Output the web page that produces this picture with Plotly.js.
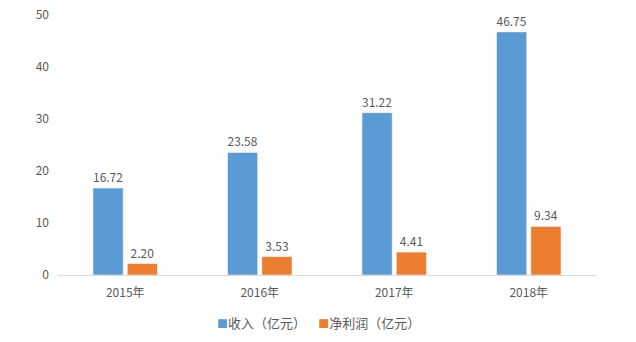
<!DOCTYPE html>
<html><head><meta charset="utf-8">
<script src="https://cdn.plot.ly/plotly-3.0.1.min.js"></script>
<style>html,body{margin:0;padding:0;background:#fff}#chart{width:636px;height:342px}</style>
</head><body><div id="chart"></div>
<script>
const categories = ["2015年", "2016年", "2017年", "2018年"];
const revenue = [16.72, 23.58, 31.22, 46.75];
const netProfit = [2.20, 3.53, 4.41, 9.34];
const seriesNames = ["收入（亿元）", "净利润（亿元）"];
const seriesColors = ["#5B9BD5", "#ED7D31"];
const yTicks = [0, 10, 20, 30, 40, 50];

const font = "'Microsoft YaHei', 'Noto Sans CJK SC', sans-serif";
const textColor = "#595959";

const mk = (y, name, color) => ({
  type: "bar", x: categories, y: y, name: name,
  marker: {color: color, line: {color: "#ffffff", width: 0.5}},
  text: y.map(v => v.toFixed(2)), textposition: "outside", cliponaxis: false,
  textfont: {family: font, size: 12, color: textColor},
  hoverinfo: "none", showlegend: false
});

const legendText = seriesNames.map((n, i) =>
  `<span style="color:${seriesColors[i]};font-size:11px">■</span>${n}`).join("　  ");

Plotly.newPlot("chart", [
  mk(revenue, seriesNames[0], seriesColors[0]),
  mk(netProfit, seriesNames[1], seriesColors[1])
], {
  width: 636, height: 342,
  margin: {l: 58, r: 40, t: 15, b: 67},
  paper_bgcolor: "#fff", plot_bgcolor: "#fff",
  barmode: "group", bargap: 0.49, bargroupgap: 0.12,
  font: {family: font, color: textColor, size: 12},
  xaxis: {showline: true, linecolor: "#D9D9D9", linewidth: 1, ticks: "", showgrid: false,
          tickfont: {size: 12, color: textColor}, ticklabelstandoff: 7},
  yaxis: {range: [0, 50], tickvals: yTicks, showgrid: false, zeroline: false, showline: false,
          ticks: "", tickfont: {size: 12, color: textColor}, ticklabelstandoff: 8},
  showlegend: false,
  annotations: [{
    xref: "paper", yref: "paper", x: (318 - 58) / 538, y: (342 - 322 - 67) / 260,
    xanchor: "center", yanchor: "middle", showarrow: false,
    text: legendText, font: {family: font, size: 13, color: textColor}
  }]
}, {staticPlot: true, displayModeBar: false});
</script></body></html>
